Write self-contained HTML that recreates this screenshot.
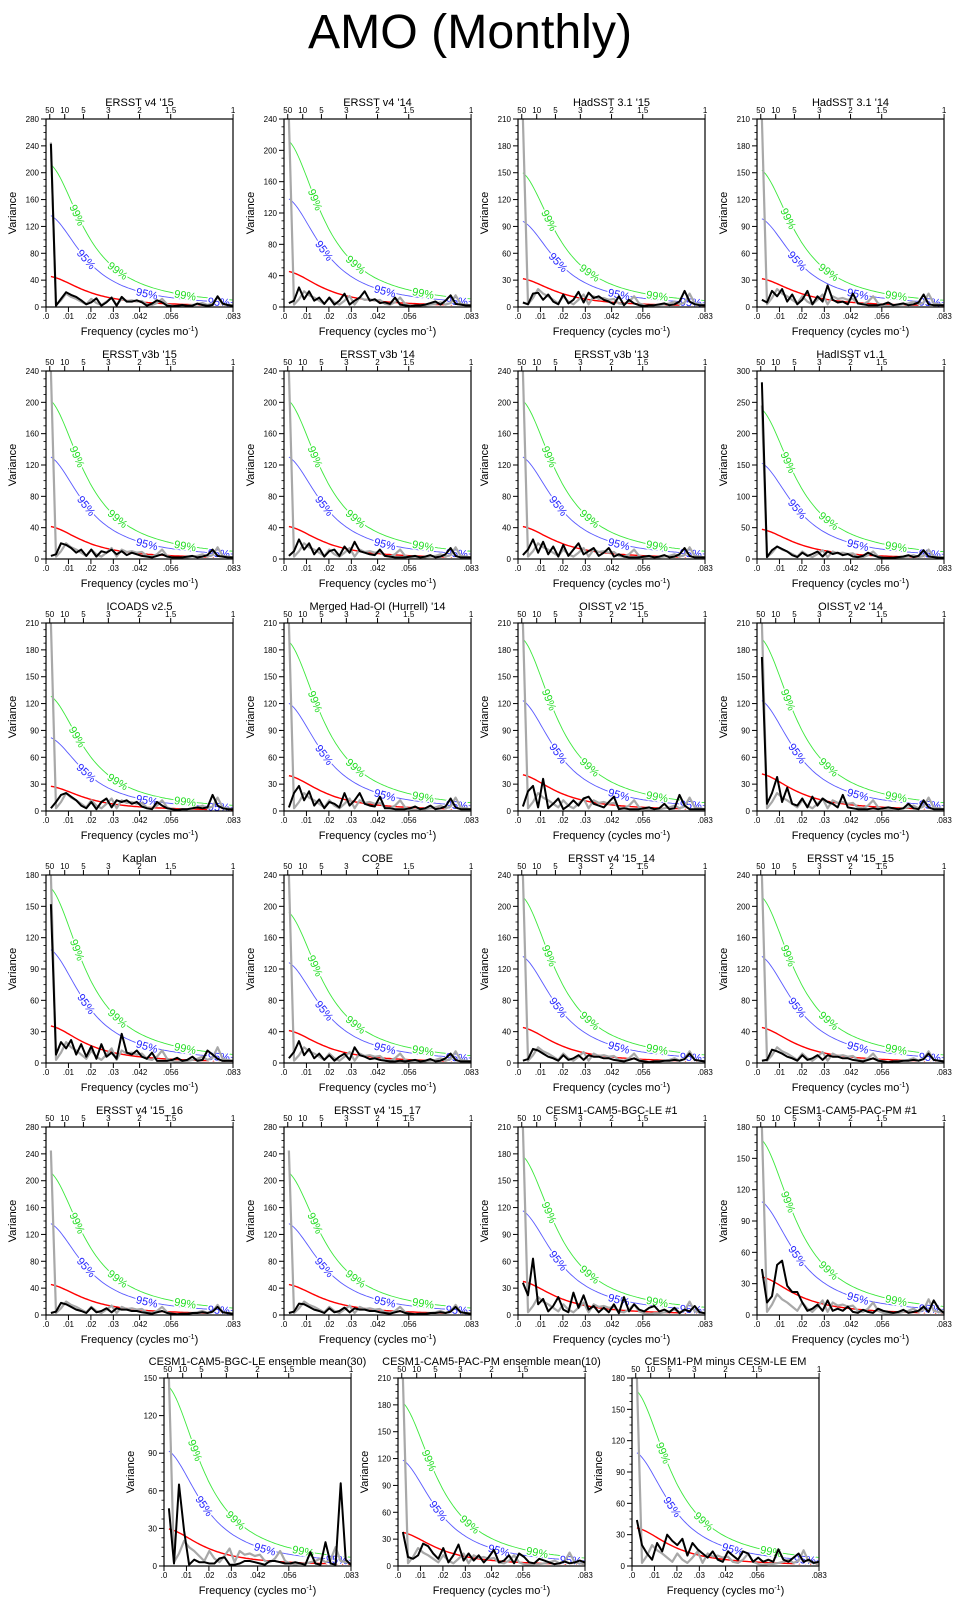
<!DOCTYPE html>
<html><head><meta charset="utf-8"><title>AMO (Monthly)</title>
<style>
html,body{margin:0;padding:0;background:#fff;}
svg text{font-family:"Liberation Sans",Arial,sans-serif;}
</style></head>
<body>
<svg id="fig" xmlns="http://www.w3.org/2000/svg" width="958" height="1602" viewBox="0 0 958 1602">
<rect width="958" height="1602" fill="#fff"/>
<text x="470" y="48" font-size="48" text-anchor="middle" textLength="324" lengthAdjust="spacingAndGlyphs">AMO (Monthly)</text>
</svg>
<script>
// ---- chart data ----
const panelTitles = ["ERSST v4 '15","ERSST v4 '14","HadSST 3.1 '15","HadSST 3.1 '14",
"ERSST v3b '15","ERSST v3b '14","ERSST v3b '13","HadISST v1.1",
"ICOADS v2.5","Merged Had-OI (Hurrell) '14","OISST v2 '15","OISST v2 '14",
"Kaplan","COBE","ERSST v4 '15_14","ERSST v4 '15_15",
"ERSST v4 '15_16","ERSST v4 '15_17","CESM1-CAM5-BGC-LE #1","CESM1-CAM5-PAC-PM #1",
"CESM1-CAM5-BGC-LE ensemble mean(30)","CESM1-CAM5-PAC-PM ensemble mean(10)","CESM1-PM minus CESM-LE EM"];
const yMax = [280,240,210,210,240,240,240,300,210,210,210,210,180,240,240,240,280,280,210,180,150,210,180];
const yStep = [40,40,30,30,40,40,40,50,30,30,30,30,30,40,40,40,40,40,30,30,30,30,30];
const redStart = [46,46,32,32,42,42,42,48,28,40,41,42,36,42,46,46,46,46,38,37,30,38,37];
const sig95Start = [138,140,97,100,132,132,132,155,83,122,125,125,110,130,138,138,138,138,118,110,93,120,110];
const sig99Start = [215,215,152,155,205,205,205,242,130,192,195,195,170,195,215,215,215,215,180,170,145,185,170];
const xTickVals = [0,0.01,0.02,0.03,0.0417,0.0556,0.0833];
const xTickLabels = [".0",".01",".02",".03",".042",".056",".083"];
const periodVals = [50,10,5,3,2,1.5,1];
const periodLabels = ["50","10","5","3","2","1.5","1"];
const freqStart = 0.0022, freqStep = 0.00225;
const grayObs = [245,3,10,20,15,12,8,4,12,6,3,8,14,3,12,9,10,8,9,4,3,6,12,4,2,1,2,2,3,4,6,3,5,15,4,3,2];
const black01 = [243,2,12,22,18,15,10,4,7,13,2,7,14,2,15,8,8,10,7,2,5,10,7,2,1,2,3,2,2,5,3,2,3,16,5,3,2];
const black02 = [5,8,25,10,20,8,12,4,12,3,8,17,3,8,12,20,8,10,5,6,4,12,3,2,1,2,2,3,5,7,3,8,15,4,3,2,2];
const black03 = [5,3,15,16,8,14,6,3,14,4,8,17,5,16,10,12,8,6,3,12,2,8,4,2,1,2,2,3,4,2,3,6,18,6,3,2,2];
const black04 = [8,5,18,12,20,6,14,3,8,18,3,12,6,24,8,5,6,3,15,4,3,2,2,2,3,5,2,3,4,2,3,5,14,3,2,2,2];
const black05 = [4,6,20,18,14,8,12,4,12,3,10,8,12,6,10,5,8,6,4,3,2,4,6,3,2,2,2,3,4,2,3,5,12,4,3,2,2];
const black06 = [4,10,25,12,20,6,14,3,10,12,4,16,8,22,10,8,6,5,12,4,3,2,2,2,3,4,2,3,5,2,3,6,14,4,2,2,2];
const black07 = [5,12,25,8,22,6,16,3,18,4,12,20,6,10,14,4,8,14,3,6,3,2,2,2,3,4,2,3,5,2,3,6,14,4,2,2,2];
const black08 = [282,3,14,20,16,12,6,3,10,5,8,12,4,12,8,10,6,8,4,3,5,10,6,3,2,2,2,3,4,6,3,5,14,4,3,2,2];
const black09 = [3,10,18,20,16,12,6,3,10,2,10,14,4,12,10,12,8,10,5,3,2,10,6,3,2,1,2,2,3,4,3,4,18,6,3,2,2];
const black10 = [4,20,28,12,22,6,13,3,10,8,4,20,6,12,20,8,6,5,16,3,3,2,2,2,3,5,2,3,6,2,3,5,14,4,2,2,2];
const black11 = [5,22,28,4,36,3,8,14,2,6,12,6,14,16,8,6,4,10,16,2,3,2,2,2,3,4,2,3,8,2,3,18,6,2,2,2,2];
const black12 = [172,8,20,38,10,26,8,6,14,4,16,6,14,10,8,4,18,4,3,2,2,2,3,2,3,4,3,2,3,8,3,2,12,4,2,2,2];
const black13 = [152,8,20,14,22,8,18,6,16,4,18,6,10,4,28,10,8,12,6,4,10,2,2,2,3,5,2,3,6,2,3,12,8,4,2,2,2];
const black14 = [6,14,28,10,18,6,12,4,10,3,8,12,4,20,10,8,5,6,4,3,2,2,3,2,3,4,2,3,5,2,3,6,12,4,2,2,2];
const black15 = [3,5,18,16,12,8,6,3,10,4,6,10,4,10,8,8,6,6,4,3,2,4,6,3,2,1,2,2,3,3,4,3,5,12,4,3,2];
const black16 = [3,4,17,15,12,8,6,3,10,4,6,10,4,10,8,8,6,6,4,3,2,4,6,3,2,1,2,2,3,3,4,3,5,12,4,3,2];
const black17 = [3,5,18,16,12,8,6,3,11,4,6,10,4,10,8,8,6,6,4,3,2,4,6,3,2,1,2,2,3,3,4,3,5,12,4,3,2];
const black18 = [3,5,17,16,12,8,6,3,10,4,6,11,4,10,8,8,6,6,4,3,2,4,6,3,2,1,2,2,3,3,4,3,5,12,4,3,2];
const black19 = [36,22,63,12,18,4,10,20,6,3,25,8,22,6,10,3,8,3,12,2,20,4,12,6,4,8,10,4,6,3,8,2,6,4,10,3,2];
const black20 = [44,12,18,48,52,28,22,22,12,4,6,10,4,14,4,6,4,8,3,2,5,3,2,6,4,3,2,3,5,2,3,4,8,3,14,6,2];
const black21 = [46,2,65,28,1,5,3,3,2,2,6,7,1,1,2,4,4,3,2,1,4,4,3,2,2,3,2,1,11,2,1,19,2,1,66,5,1];
const black22 = [38,10,8,12,25,22,14,8,20,4,12,24,6,14,6,12,4,10,18,4,6,12,3,14,10,4,3,8,6,4,2,3,5,3,4,6,4];
const black23 = [44,20,12,6,22,14,30,24,20,26,10,22,16,12,8,14,6,4,14,10,6,14,12,4,8,4,6,4,16,6,4,8,12,4,6,3,4];
const blackSeries = [black01,black02,black03,black04,black05,black06,black07,black08,black09,black10,black11,black12,
black13,black14,black15,black16,black17,black18,black19,black20,black21,black22,black23];

// ---- layout ----
const NS = "http://www.w3.org/2000/svg";
const svg = document.getElementById('fig');
const PW = 187, PH = 188, FMAX = 0.0833, AR = 0.89;
const colX = [46,284,518,757], rowY = [119,371,623,875,1127,1378], lastX = [164,398,632];
function mk(tag, attrs, parent){const e=document.createElementNS(NS,tag);for(const k in attrs)e.setAttribute(k,attrs[k]);(parent||svg).appendChild(e);return e;}
function redShape(f){return (1-AR)*(1-AR)/(1+AR*AR-2*AR*Math.cos(2*Math.PI*f));}

blackSeries.forEach((blk,i)=>{
  const L = i<20 ? colX[i%4] : lastX[i-20];
  const T = i<20 ? rowY[Math.floor(i/4)] : rowY[5];
  const B = T+PH, R = L+PW, ym = yMax[i];
  const sx = f => L + (f/FMAX)*PW;
  const sy = v => B - (Math.min(v,ym)/ym)*PH;
  const g = mk('g',{});
  
  
  const cp = mk('clipPath',{id:'cp'+i},g);
  mk('rect',{x:L,y:T,width:PW,height:PH},cp);
  // title
  const t = mk('text',{x:(L+R)/2,y:T-13,'font-size':11,'text-anchor':'middle'},g);
  t.textContent = panelTitles[i];
  
  
  // y axis ticks
  for(let v=0; v<=ym+0.01; v+=yStep[i]){
    mk('line',{x1:L-5,x2:L,y1:sy(v),y2:sy(v),stroke:'#000','stroke-width':1},g);
    const tl = mk('text',{x:L-7,y:sy(v)+3,'font-size':8,'text-anchor':'end'},g);
    tl.textContent = v;
    
    
  }
  const minorStep = yStep[i]/4;
  for(let v=minorStep; v<ym; v+=minorStep){
    if(Math.abs(v/yStep[i]-Math.round(v/yStep[i]))<0.01) continue;
    mk('line',{x1:L-2.5,x2:L,y1:sy(v),y2:sy(v),stroke:'#000','stroke-width':0.8},g);
  }
  const yt = mk('text',{x:0,y:0,'font-size':11,'text-anchor':'middle',transform:`translate(${L-30},${(T+B)/2}) rotate(-90)`},g);
  yt.textContent = 'Variance';
  
  
  // bottom x ticks
  xTickVals.forEach((f,j)=>{
    mk('line',{x1:sx(f),x2:sx(f),y1:B,y2:B+5,stroke:'#000','stroke-width':1},g);
    const xl = mk('text',{x:sx(f),y:B+12,'font-size':8,'text-anchor':'middle'},g);
    xl.textContent = xTickLabels[j];
    
    
  });
  const xt = mk('text',{x:(L+R)/2,y:B+28,'font-size':11,'text-anchor':'middle'},g);
  xt.innerHTML = 'Frequency (cycles mo<tspan font-size="7" dy="-4">-1</tspan><tspan dy="4">)</tspan>';
  
  
  // top period ticks
  periodVals.forEach((p,j)=>{
    const f = 1/(12*p);
    mk('line',{x1:sx(f),x2:sx(f),y1:T-5,y2:T,stroke:'#000','stroke-width':1},g);
    const pl = mk('text',{x:sx(f),y:T-6,'font-size':8,'text-anchor':'middle'},g);
    pl.textContent = periodLabels[j];
    
    
  });
  const dg = mk('g',{'clip-path':`url(#cp${i})`},g);
  // significance curves
  const curve = (amp)=>{let d='';for(let f=0.0022;f<=FMAX+1e-9;f+=0.0008){d+=(d?'L':'M')+sx(f).toFixed(1)+','+(B-(amp*redShape(f)/ym)*PH).toFixed(1);}return d;};
  const c99 = mk('path',{d:curve(sig99Start[i]),fill:'none',stroke:'#3ce83c','stroke-width':0.9},dg);
  
  
  const c95 = mk('path',{d:curve(sig95Start[i]),fill:'none',stroke:'#5a5aff','stroke-width':0.9},dg);
  
  
  const cr = mk('path',{d:curve(redStart[i]),fill:'none',stroke:'#ff0000','stroke-width':1.4},dg);
  
  
  // curve labels
  const addLab = (amp,f,txt,col)=>{
    const x1=sx(f-0.001),x2=sx(f+0.001);
    const y1=B-(amp*redShape(f-0.001)/ym)*PH,y2=B-(amp*redShape(f+0.001)/ym)*PH;
    const ang=Math.atan2(y2-y1,x2-x1)*180/Math.PI;
    const x=sx(f),y=B-(amp*redShape(f)/ym)*PH;
    const lt=mk('text',{x:0,y:4,'font-size':11,'text-anchor':'middle',fill:col,stroke:'#fff','stroke-width':3,'paint-order':'stroke',transform:`translate(${x.toFixed(1)},${y.toFixed(1)}) rotate(${ang.toFixed(1)})`},dg);
    lt.textContent=txt;
    
    
  };
  [0.014,0.032,0.062].forEach(f=>addLab(sig99Start[i],f,'99%','#22dd22'));
  [0.018,0.045,0.077].forEach(f=>addLab(sig95Start[i],f,'95%','#2222ff'));
  // spectra
  const line = arr => arr.map((v,k)=>(k?'L':'M')+sx(freqStart+k*freqStep).toFixed(1)+','+sy(v).toFixed(1)).join('');
  const gp = mk('path',{d:line(grayObs),fill:'none',stroke:'#a8a8a8','stroke-width':2.2,'stroke-linejoin':'round'},dg);
  
  
  const bp = mk('path',{d:line(blk),fill:'none',stroke:'#000','stroke-width':2,'stroke-linejoin':'round'},dg);
  
  
  // frame
  const fr = mk('rect',{x:L,y:T,width:PW,height:PH,fill:'none',stroke:'#000','stroke-width':1.2},g);
  
  
});
</script>
</body></html>
